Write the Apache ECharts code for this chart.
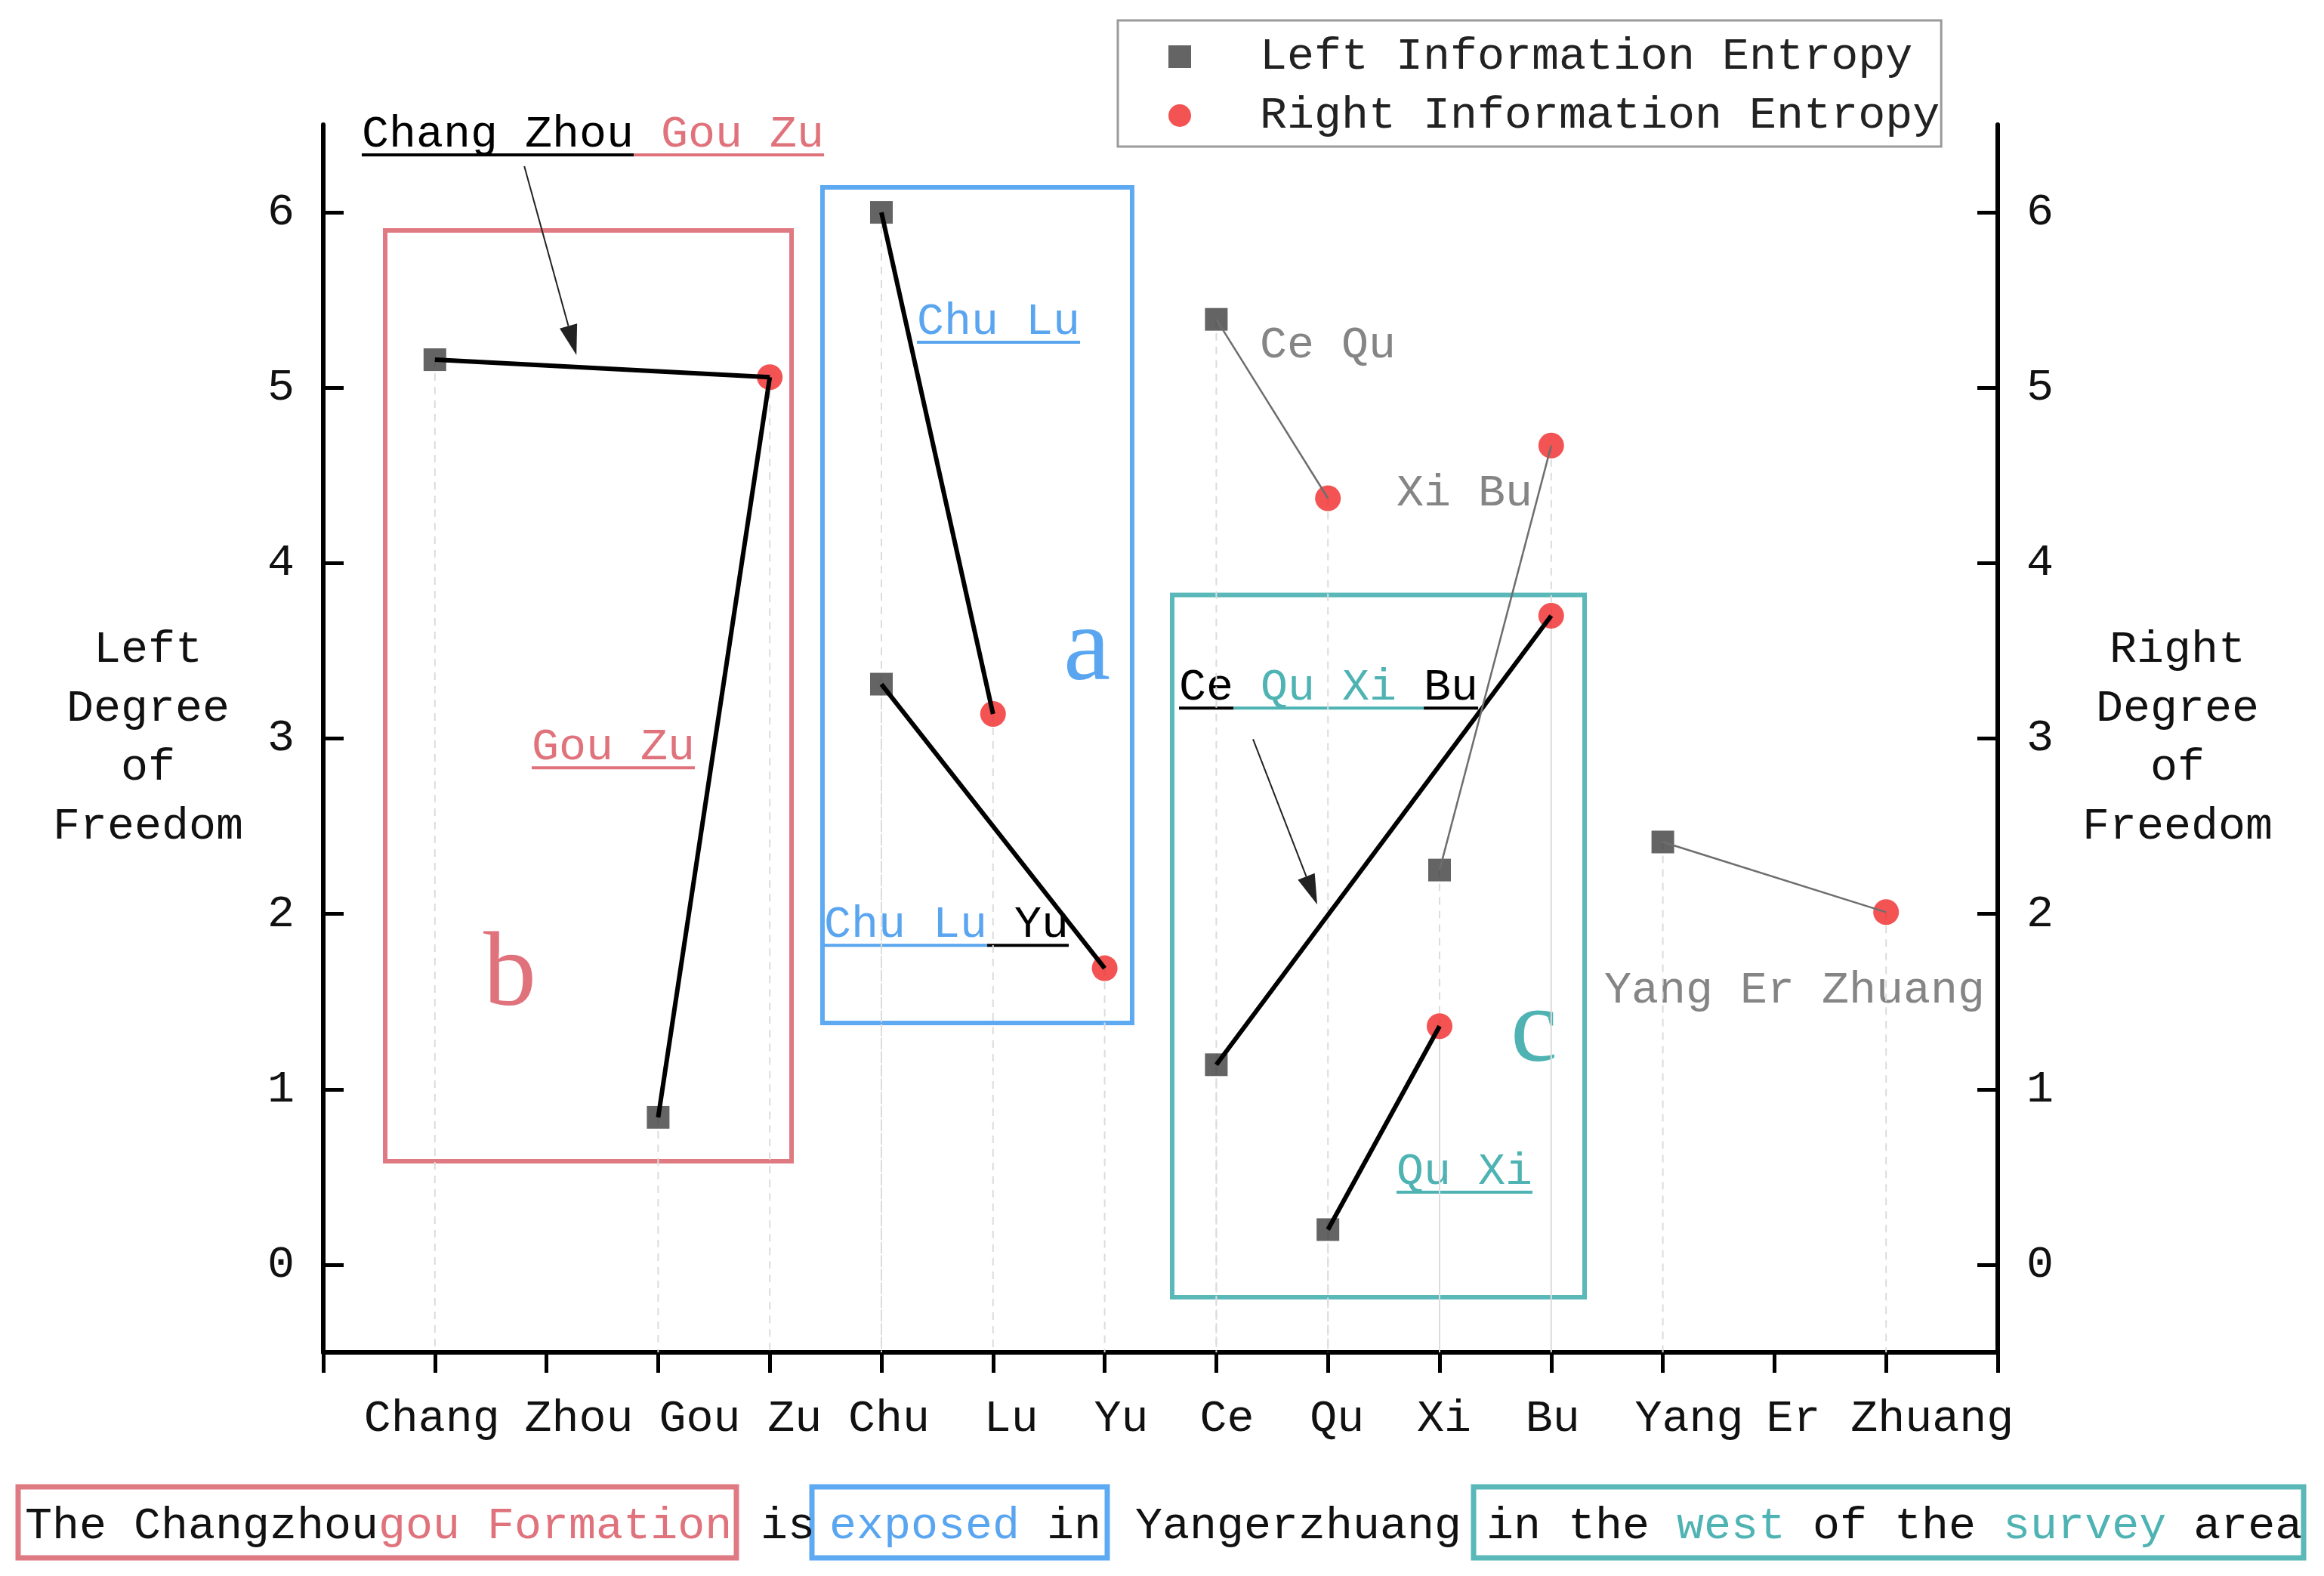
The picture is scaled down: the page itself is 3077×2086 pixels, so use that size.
<!DOCTYPE html>
<html><head><meta charset="utf-8">
<script src="https://cdn.jsdelivr.net/npm/echarts@6/dist/echarts.min.js"></script>
<style>html,body{margin:0;padding:0;background:#fff}#c{width:3077px;height:2086px}</style>
</head><body><div id="c"></div>
<script>
// ---------------- data ----------------
const categories = ['Chang','Zhou','Gou','Zu','Chu','Lu','Yu','Ce','Qu','Xi','Bu','Yang','Er','Zhuang'];
const leftEntropy = [['Chang',5.16],['Gou',0.84],['Chu',6.00],['Chu',3.31],['Ce',5.39],['Ce',1.14],['Qu',0.20],['Xi',2.25],['Yang',2.41]];
const rightEntropy = [['Zu',5.06],['Lu',3.14],['Yu',1.69],['Qu',4.37],['Xi',1.36],['Bu',4.67],['Bu',3.70],['Zhuang',2.01]];
const yTicks = [0,1,2,3,4,5,6];
// word links: [index in leftEntropy, index in rightEntropy]
const strongLinks = [[0,0],[1,0],[2,1],[3,2],[5,6],[6,4]];
const weakLinks = [[4,3],[7,5],[8,7]];
const legendNames = ['Left Information Entropy','Right Information Entropy'];

// ---------------- styling ----------------
const MONO = 'Liberation Mono', SERIF = 'Liberation Serif';
const FS = 60;
const PINK = '#e0727c', BLUE = '#5aa5f0', TEAL = '#4fb3b3', GRAY = '#858585';
const PINK_BOX = '#e07a82', BLUE_BOX = '#5eaaf2', TEAL_BOX = '#5ab8b8';
// horizontal nudge (px) of each category label, to reproduce the original's spacing
const labelShift = [-4, 43, 55, 33, 10, 24, 22, 14, 12, 6, 2, 35, 25, 61];

const toPt = d => [categories.indexOf(d[0]) + 1, d[1]];
const leftPts = leftEntropy.map(toPt);
const rightPts = rightEntropy.map(toPt);

const series = [];
// drop lines
leftPts.concat(rightPts).forEach(p => {
  series.push({type:'line', silent:true, z:1, showSymbol:false, symbol:'none',
    data:[p,[p[0],-0.5]], lineStyle:{color:'#dcdcdc', width:2, type:[10,8]}});
});
series.push({name:legendNames[0], type:'scatter', symbol:'rect', symbolSize:30, z:3,
  itemStyle:{color:'#3d3d3d'}, data:leftPts});
series.push({name:legendNames[1], type:'scatter', symbol:'circle', symbolSize:34, z:3,
  itemStyle:{color:'#f02828'}, data:rightPts});
strongLinks.forEach(l => series.push({type:'line', silent:true, z:4, showSymbol:false, symbol:'none',
  data:[leftPts[l[0]], rightPts[l[1]]], lineStyle:{color:'#000', width:6}}));
weakLinks.forEach(l => series.push({type:'line', silent:true, z:4, showSymbol:false, symbol:'none',
  data:[leftPts[l[0]], rightPts[l[1]]], lineStyle:{color:'#6e6e6e', width:2.5}}));

const axisFont = {fontFamily:MONO, fontSize:FS, color:'#111'};
function yAxisDef(pos, name, gap){
  return {type:'value', position:pos, min:-0.5, max:6.5,
    axisLine:{show:true, onZero:false, lineStyle:{color:'#000', width:6}},
    axisTick:{show:true, inside:true, length:27, lineStyle:{color:'#000', width:5}, customValues:yTicks},
    axisLabel:Object.assign({margin:38, customValues:yTicks, formatter:v => (Number.isInteger(v) ? String(v) : '')}, axisFont),
    splitLine:{show:false},
    name:name, nameLocation:'middle', nameGap:gap, nameRotate:0,
    nameTextStyle:{fontFamily:MONO, fontSize:FS, color:'#111', align:'center', verticalAlign:'middle', lineHeight:78}
  };
}
const rich = {};
labelShift.forEach((s,i) => {
  rich['s'+(i+1)] = Object.assign({padding: s >= 0 ? [0,0,0,2*s] : [0,-2*s,0,0]}, axisFont);
});

const option = {
  backgroundColor:'#fff',
  animation:false,
  grid:{left:428, right:432, top:165, bottom:296, containLabel:false},
  legend:{orient:'vertical', left:1480, top:27, padding:[18,2,11,67],
    itemWidth:58, itemHeight:30, itemGap:18,
    borderColor:'#9a9a9a', borderWidth:3,
    data:[{name:legendNames[0], icon:'path://M0,0L10,0L10,10L0,10Z'},{name:legendNames[1], icon:'circle'}],
    formatter:n => '  ' + n,
    textStyle:{fontFamily:MONO, fontSize:FS, color:'#222', lineHeight:60}},
  xAxis:{type:'value', min:0, max:15, interval:1,
    axisLine:{show:true, onZero:false, lineStyle:{color:'#000', width:6}},
    axisTick:{show:true, inside:false, length:27, lineStyle:{color:'#000', width:5}},
    axisLabel:Object.assign({margin:58, rich:rich,
      formatter:v => (categories[v-1] ? '{s' + v + '|' + categories[v-1] + '}' : '')}, axisFont),
    splitLine:{show:false}},
  yAxis:[yAxisDef('left','Left\nDegree\nof\nFreedom',232), yAxisDef('right','Right\nDegree\nof\nFreedom',238)],
  series:series
};

const chart = echarts.init(document.getElementById('c'), null, {renderer:'canvas'});
chart.setOption(option);

// ---------------- annotations (data-space anchors) ----------------
const ctx = document.createElement('canvas').getContext('2d');
ctx.font = FS + 'px "' + MONO + '"';
const CW = ctx.measureText('MMMMMMMMMM').width / 10;
const P = (x,y) => chart.convertToPixel({gridIndex:0}, [x,y]);

const boxes = [
  {x0:0.555, y0:5.897, x1:4.195, y1:0.590, color:PINK_BOX},
  {x0:4.472, y0:6.143, x1:7.246, y1:1.378, color:BLUE_BOX},
  {x0:7.605, y0:3.818, x1:11.299, y1:-0.185, color:TEAL_BOX}
];
const letters = [
  {t:'b', x:1.434, y:1.64, color:PINK},
  {t:'a', x:6.63, y:3.495, color:BLUE},
  {t:'c', x:10.636, y:1.322, color:TEAL}
];
// baseline anchored labels; parts: [text, color, underline color or null]
const labels = [
  {x:0.345, y:6.371, parts:[['Chang Zhou','#000','#000'],[' Gou Zu',PINK,PINK]]},
  {x:1.867, y:2.876, parts:[['Gou Zu',PINK,PINK]]},
  {x:5.318, y:5.303, parts:[['Chu Lu',BLUE,BLUE]]},
  {x:4.486, y:1.864, parts:[['Chu Lu',BLUE,BLUE],[' Yu','#000','#000']]},
  {x:8.39,  y:5.170, parts:[['Ce Qu',GRAY,null]]},
  {x:9.614, y:4.322, parts:[['Xi Bu',GRAY,null]]},
  {x:7.666, y:3.216, parts:[['Ce','#000','#000'],[' Qu Xi ',TEAL,TEAL],['Bu','#000','#000']]},
  {x:9.614, y:0.456, parts:[['Qu Xi',TEAL,TEAL]]},
  {x:11.475,y:1.489, parts:[['Yang Er Zhuang',GRAY,null]]}
];
const arrows = [
  {from:[1.801,6.263], to:[2.268,5.186]},
  {from:[8.329,2.996], to:[8.904,2.053]}
];

const g = [];
boxes.forEach(b => {
  const a = P(b.x0,b.y0), c = P(b.x1,b.y1);
  g.push({type:'rect', z:0, shape:{x:a[0], y:a[1], width:c[0]-a[0], height:c[1]-a[1]},
    style:{fill:'rgba(0,0,0,0)', stroke:b.color, lineWidth:6}});
});
letters.forEach(l => {
  const p = P(l.x,l.y);
  g.push({type:'text', z:1, x:p[0], y:p[1], style:{text:l.t, fill:l.color,
    font:'140px "' + SERIF + '"', align:'left', verticalAlign:'middle'}});
});
function pushParts(x0, baseY, parts, underline){
  let off = 0;
  parts.forEach(pt => {
    const w = pt[0].length * CW;
    g.push({type:'text', z:1, x:x0 + off, y:baseY - 17, style:{text:pt[0], fill:pt[1],
      font:FS + 'px "' + MONO + '"', align:'left', verticalAlign:'middle'}});
    if (underline && pt[2]) g.push({type:'rect', z:1, shape:{x:x0+off, y:baseY+8, width:w, height:4}, style:{fill:pt[2]}});
    off += w;
  });
}
labels.forEach(l => { const p = P(l.x,l.y); pushParts(p[0], p[1], l.parts, true); });
arrows.forEach(a => {
  const p0 = P(a.from[0],a.from[1]), p1 = P(a.to[0],a.to[1]);
  const dx=p1[0]-p0[0], dy=p1[1]-p0[1], L=Math.hypot(dx,dy), ux=dx/L, uy=dy/L;
  const hl=40, hw=12, bx=p1[0]-ux*hl, by=p1[1]-uy*hl;
  g.push({type:'line', z:1, shape:{x1:p0[0], y1:p0[1], x2:bx, y2:by}, style:{stroke:'#222', lineWidth:2}});
  g.push({type:'polygon', z:1, shape:{points:[[p1[0],p1[1]],[bx-uy*hw,by+ux*hw],[bx+uy*hw,by-ux*hw]]}, style:{fill:'#222'}});
});

// ---------------- caption sentence under the chart ----------------
const capBase = 2037;
const capBoxes = [
  {x:24, w:951, color:PINK_BOX},
  {x:1075, w:391, color:BLUE_BOX},
  {x:1951, w:1099, color:TEAL_BOX}
];
capBoxes.forEach(b => g.push({type:'rect', z:0, shape:{x:b.x, y:1968, width:b.w, height:94},
  style:{fill:'rgba(0,0,0,0)', stroke:b.color, lineWidth:7}}));
pushParts(33, capBase, [['The Changzhou','#111'],['gou Formation',PINK]], false);
pushParts(1007, capBase, [['is','#111']], false);
pushParts(1098, capBase, [['exposed',BLUE],[' in','#111']], false);
pushParts(1503, capBase, [['Yangerzhuang','#111']], false);
pushParts(1968, capBase, [['in the ','#111'],['west',TEAL],[' of the ','#111'],['survey',TEAL],[' area','#111']], false);

chart.setOption({graphic:{elements:g}});
</script>
</body></html>
